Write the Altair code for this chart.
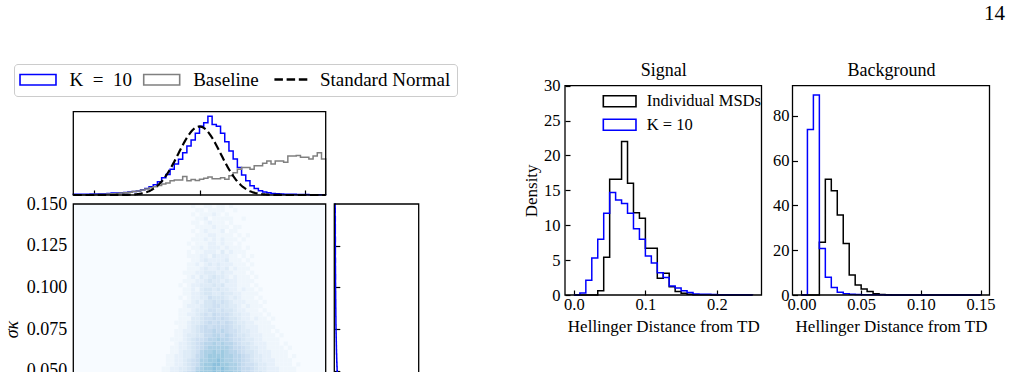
import math
import altair as alt
import pandas as pd

FONT = "Liberation Serif"
BLUE, GRAY, BLACK = "#0000ff", "#808080", "#000000"

# ---------------------------------------------------------------- data
# pull distribution: 60 bins of width 0.2 on [-6, 6]
pull_lo, pull_hi, pull_bin = -6.0, 6.0, 0.2
k10_pull = [0.004, 0.004, 0.005, 0.005, 0.006, 0.006, 0.007, 0.008, 0.009, 0.011,
            0.012, 0.013, 0.015, 0.017, 0.021, 0.024, 0.030, 0.038, 0.048, 0.060,
            0.077, 0.100, 0.120, 0.150, 0.180, 0.208, 0.246, 0.285, 0.320, 0.360,
            0.400, 0.420, 0.458, 0.410, 0.400, 0.360, 0.310, 0.256, 0.210, 0.160,
            0.116, 0.083, 0.054, 0.038, 0.025, 0.017, 0.013, 0.009, 0.007, 0.006,
            0.005, 0.004, 0.004, 0.003, 0.003, 0.003, 0.002, 0.002, 0.002, 0.002]
baseline_pull = [0.001, 0.001, 0.002, 0.002, 0.003, 0.003, 0.004, 0.005, 0.006, 0.007,
                 0.009, 0.011, 0.013, 0.016, 0.020, 0.024, 0.029, 0.035, 0.042, 0.048,
                 0.055, 0.064, 0.070, 0.083, 0.088, 0.088, 0.107, 0.083, 0.090, 0.085,
                 0.092, 0.098, 0.105, 0.095, 0.095, 0.100, 0.092, 0.112, 0.130, 0.150,
                 0.160, 0.160, 0.150, 0.170, 0.170, 0.185, 0.198, 0.180, 0.198, 0.198,
                 0.190, 0.227, 0.227, 0.230, 0.220, 0.220, 0.210, 0.227, 0.246, 0.210]

# sigma_kappa marginal: rows of 0.0025 going down from 0.15
sigma_top, sigma_bin = 0.15, 0.0025
k10_sigma = [0.010, 0.011, 0.010, 0.012, 0.011, 0.012, 0.012, 0.011, 0.013, 0.012,
             0.013, 0.013, 0.012, 0.014, 0.013, 0.014, 0.014, 0.015, 0.014, 0.015,
             0.015, 0.016, 0.016, 0.017, 0.017, 0.018, 0.018, 0.019, 0.019, 0.020,
             0.021, 0.022, 0.023, 0.024, 0.025, 0.026, 0.028, 0.029, 0.031, 0.033,
             0.035]

# joint histogram counts (hex digits), one string per sigma row (top row first),
# first column starts at pull = -2.0
heat_col0 = -2.0
heat_rows = [
    "00000000100110110100000000000000000",
    "00000000011011110010000000000000000",
    "00000000101112101000000000000000000",
    "00000000011201111100100000000000000",
    "00000000110121110100000000000000000",
    "00000000011112111011000000000000000",
    "00000000101211120110000000000000000",
    "00000000011122111101010000000000000",
    "00000000111212121110100000000000000",
    "00000001011122121101000000000000000",
    "00000000112122212111010000000000000",
    "00000001011222131211100000000000000",
    "00000001112213222110101000000000000",
    "00000000112322223111010000000000000",
    "00000001121232322211101000000000000",
    "00000001112322323121110000000000000",
    "00000011122333232211101000000000000",
    "00000001213234332121110100000000000",
    "00000011122343323221111000000000000",
    "00000101223334342221110100000000000",
    "00000011213443433221211010000000000",
    "00000011223443343322111100000000000",
    "00000101223354443232111010000000000",
    "00000011232445454322211101000000000",
    "00000012223445544332121110000000000",
    "00000111233455454432211101000000000",
    "00000112234546555433221110100000000",
    "00000111334556565443221211010000000",
    "00001112334565656543322111100000000",
    "00000112345656666544322211110000000",
    "00001122345667676554332211101000000",
    "00001123344667767654432221110100000",
    "00011123455677877655433221111000000",
    "00001223456778787765443222111010000",
    "00011223456788888766543322111101000",
    "00011233457889898776544322211110000",
    "00112233467899998877654332211110100",
    "00112234568899a98877654332221111000",
    "0011223456899aa99887655433221111010",
    "0112233457899a9a9887665433222111100",
    "0112234568999a9a9988665443222111100",
]

# Hellinger distance from TD
sig_bin = 1 / 120
sig_msd = [0, 0, 0, 0, 0.6, 5.4, 16.6, 16.6, 22.0, 16.0,
           11.8, 11.0, 6.7, 6.7, 2.4, 3.1, 1.2, 0.5, 0.25, 0.1,
           0.05, 0.03, 0.02, 0.01, 0.01, 0, 0, 0, 0, 0]
sig_k10 = [0, 0.3, 2.1, 5.3, 8.0, 11.7, 14.7, 13.6, 13.1, 11.7,
           9.5, 8.0, 5.6, 4.6, 3.2, 2.5, 1.3, 1.0, 0.6, 0.35,
           0.15, 0.12, 0.1, 0.08, 0.05, 0.04, 0.03, 0.02, 0.02, 0.01]
bkg_bin = 0.005
bkg_msd = [0, 0, 0, 23.5, 51.7, 46.5, 35.7, 23.0, 8.9, 4.5,
           2.7, 1.6, 0.6, 0.2, 0.1, 0.05, 0.03, 0.02, 0.01, 0.01,
           0, 0, 0, 0, 0, 0, 0, 0, 0, 0]
bkg_k10 = [0, 73.8, 89.2, 20.8, 7.9, 3.4, 1.2, 0.6, 0.3, 0.2,
           0.15, 0.1, 0.08, 0.06, 0.05, 0.04, 0.03, 0.03, 0.02, 0.02,
           0.02, 0.01, 0.01, 0.01, 0.01, 0.01, 0.01, 0.01, 0.01, 0.01]

# legend entries (en spaces around "=" give the math-style spacing)
left_series = ["K\u2002=\u200210", "Baseline", "Standard Normal"]
right_series = ["Individual MSDs", "K = 10"]
page_number = "14"

# ---------------------------------------------------------------- helpers
def outline(start, width, values, series):
    """Vertices of a step-histogram outline (matplotlib histtype='step')."""
    n = len(values)
    edges = [start + k * width for k in range(n + 1)]
    pts = [(edges[0], 0.0)]
    for k, v in enumerate(values):
        pts += [(edges[k], v), (edges[k + 1], v)]
    pts.append((edges[n], 0.0))
    return pd.DataFrame({"x": [p[0] for p in pts], "y": [p[1] for p in pts],
                         "i": range(len(pts)), "series": series})


def sideways_outline(top, width, values):
    pts = [(0.0, top)]
    for k, v in enumerate(values):
        pts += [(v, top - k * width), (v, top - (k + 1) * width)]
    return pd.DataFrame({"x": [p[0] for p in pts], "y": [p[1] for p in pts],
                         "i": range(len(pts))})


def sc(dom, rng):
    return alt.Scale(domain=dom, range=rng, nice=False, zero=False)


W, H = 1011, 372
ONE = pd.DataFrame({"k": [0]})


def tick_axis(orient, offset, values, size=5.0):
    return alt.Axis(orient=orient, offset=offset, values=values, labels=False,
                    domain=False, ticks=True, tickSize=size, tickWidth=1.2,
                    tickColor=BLACK, grid=False, title=None)


def label_axis(orient, offset, values, fmt, size, pad, **kw):
    return alt.Axis(orient=orient, offset=offset, values=values, format=fmt,
                    ticks=False, tickSize=0, domain=False, grid=False,
                    labelFont=FONT, labelFontSize=size, labelPadding=pad,
                    labelColor=BLACK, labelFlush=False, labelOverlap=False,
                    titleFont=FONT, titleFontWeight="normal", titleColor=BLACK,
                    **kw)


def frame(xs, ys, xd, yd, xaxis=None, yaxis=None, fill="transparent"):
    return alt.Chart(ONE).mark_rect(fill=fill, stroke=BLACK, strokeWidth=1.3).encode(
        x=alt.X(datum=xd[0], scale=xs, axis=xaxis), x2=alt.X2(datum=xd[1]),
        y=alt.Y(datum=yd[0], scale=ys, axis=yaxis), y2=alt.Y2(datum=yd[1]))


# ---------------------------------------------------------------- panel scales
PULL_DOM = [pull_lo, pull_hi]
TM_YDOM = [0, 0.485]
HM_YDOM = [0, 0.15]
RM_XDOM = [0, 1]
SG_XDOM, SG_YDOM = [-0.0125, 0.2625], [0, 30]
BG_XDOM, BG_YDOM = [-0.0075, 0.1575], [0, 93.4]

X_PULL = sc(PULL_DOM, [73.3, 325.7])
Y_TM = sc(TM_YDOM, [195, 111.7])
Y_HM = sc(HM_YDOM, [454, 204])
X_RM = sc(RM_XDOM, [334.3, 418.7])
X_SG, Y_SG = sc(SG_XDOM, [565, 761.5]), sc(SG_YDOM, [295, 85.7])
X_BG, Y_BG = sc(BG_XDOM, [792.5, 989.5]), sc(BG_YDOM, [295, 85.7])

# ---------------------------------------------------------------- legends
RECT_L = "M-3.27,-0.96H3.27V0.96H-3.27Z"
LINE_L = "M-3.27,0H3.27"
RECT_R = "M-2.97,-1H2.97V1H-2.97Z"
NORMAL_DASH = [8.5, 3.7]

# boxed legend: the third entry keeps its label, its dashed symbol comes from
# the strokeDash legend laid on top of it
stroke_scale = alt.Scale(domain=left_series, range=[BLUE, GRAY, "transparent"])
left_legend = alt.Legend(
    orient="none", legendX=14, legendY=64, direction="horizontal", columns=3,
    title=None, labelFont=FONT, labelFontSize=19, labelColor=BLACK,
    symbolType=RECT_L, symbolSize=121, symbolStrokeWidth=1.6,
    symbolFillColor="transparent", symbolOffset=8.5, labelOffset=22,
    columnPadding=7.7, padding=6, strokeColor="#cccccc", fillColor="white",
    cornerRadius=3.5, zindex=0)
dash_legend = alt.Legend(
    orient="none", legendX=274.4, legendY=70, title=None,
    labelFont=FONT, labelFontSize=19, labelExpr="''",
    symbolType=LINE_L, symbolSize=121, symbolStrokeWidth=2.3,
    symbolStrokeColor=BLACK, symbolOffset=8.5, padding=0, zindex=1)

color_scale = alt.Scale(domain=right_series, range=[BLACK, BLUE])
right_legend = alt.Legend(
    orient="none", legendX=603.3, legendY=93, direction="vertical", columns=1,
    title=None, labelFont=FONT, labelFontSize=16.5, labelColor=BLACK,
    symbolType=RECT_R, symbolSize=121, symbolStrokeWidth=1.6,
    symbolFillColor="transparent", symbolOffset=8.1,
    labelOffset=18.9, rowPadding=5.5, padding=0)

# ---------------------------------------------------------------- top marginal
pull_df = pd.concat([outline(pull_lo, pull_bin, k10_pull, left_series[0]),
                     outline(pull_lo, pull_bin, baseline_pull, left_series[1])])
tm_hist = alt.Chart(pull_df).mark_line(strokeWidth=1.5).encode(
    x=alt.X("x:Q", scale=X_PULL, axis=None),
    y=alt.Y("y:Q", scale=Y_TM, axis=None),
    stroke=alt.Stroke("series:N", scale=stroke_scale, legend=left_legend),
    order="i:Q")

zs = [pull_lo + 0.05 * k for k in range(241)]
normal_df = pd.DataFrame({"x": zs,
                          "y": [math.exp(-z * z / 2) / math.sqrt(2 * math.pi) for z in zs],
                          "series": left_series[2]})
tm_norm = alt.Chart(normal_df).mark_line(strokeWidth=2.2, stroke=BLACK).encode(
    x=alt.X("x:Q", scale=X_PULL, axis=None),
    y=alt.Y("y:Q", scale=Y_TM, axis=None),
    strokeDash=alt.StrokeDash("series:N",
                              scale=alt.Scale(domain=[left_series[2]], range=[NORMAL_DASH]),
                              legend=dash_legend))

tm_frame = frame(X_PULL, Y_TM, PULL_DOM, TM_YDOM,
                 xaxis=tick_axis("top", -195, [-5, 0, 5]))

# ---------------------------------------------------------------- joint heatmap
cells = []
for r, line in enumerate(heat_rows):
    s_hi = sigma_top - r * sigma_bin
    for c, ch in enumerate(line):
        n = int(ch, 16)
        if n:
            cells.append({"z0": heat_col0 + c * pull_bin, "z1": heat_col0 + (c + 1) * pull_bin,
                          "s0": s_hi - sigma_bin, "s1": s_hi, "n": n})
cells_df = pd.DataFrame(cells)

BLUES = ["#f7fbff", "#deebf7", "#c6dbef", "#9ecae1", "#6baed6",
         "#4292c6", "#2171b5", "#08519c", "#08306b"]
fill_scale = alt.Scale(domain=[3 * k for k in range(9)], range=BLUES)

hm_back = alt.Chart(ONE).mark_rect(fill="#f7fbff").encode(
    x=alt.X(datum=PULL_DOM[0], scale=X_PULL, axis=None), x2=alt.X2(datum=PULL_DOM[1]),
    y=alt.Y(datum=HM_YDOM[0], scale=Y_HM,
            axis=label_axis("left", -73.3, [0.05, 0.075, 0.1, 0.125, 0.15], ".3f", 18, 6.5,
                            title="σκ", titleFontSize=18, titleFontStyle="italic",
                            titleX=-56, titleBaseline="alphabetic")),
    y2=alt.Y2(datum=HM_YDOM[1]))

hm_cells = alt.Chart(cells_df).mark_rect(strokeWidth=0).encode(
    x=alt.X("z0:Q", scale=X_PULL, axis=None), x2="z1:Q",
    y=alt.Y("s0:Q", scale=Y_HM, axis=None), y2="s1:Q",
    fill=alt.Fill("n:Q", scale=fill_scale, legend=None))

hm_frame = frame(X_PULL, Y_HM, PULL_DOM, HM_YDOM,
                 yaxis=tick_axis("right", 73.3 - W, [0.025, 0.05, 0.075, 0.1, 0.125], 5.5))

# ---------------------------------------------------------------- sigma marginal
rm_line = alt.Chart(sideways_outline(sigma_top, sigma_bin, k10_sigma)).mark_line(
    stroke=BLUE, strokeWidth=1.5).encode(
    x=alt.X("x:Q", scale=X_RM, axis=None),
    y=alt.Y("y:Q", scale=Y_HM, axis=None),
    order="i:Q")
rm_frame = frame(X_RM, Y_HM, RM_XDOM, HM_YDOM,
                 yaxis=tick_axis("right", 334.3 - W, [0.025, 0.05, 0.075, 0.1, 0.125], 5.5))

# ---------------------------------------------------------------- Hellinger panels
def hellinger_panel(df, xs, ys, xd, yd, x0, xvals, xfmt, yvals, title, ytitle, ypad):
    if ytitle:
        yax_kw = dict(title=ytitle, titleFontSize=17, titleX=-29, titleBaseline="alphabetic")
    else:
        yax_kw = dict(title=None)
    hist = alt.Chart(df).mark_line(strokeWidth=1.5).encode(
        x=alt.X("x:Q", scale=xs,
                axis=label_axis("bottom", 295 - H, xvals, xfmt, 16.5, 1.5,
                                title="Hellinger Distance from TD", titleFontSize=17,
                                titleY=36, titleBaseline="alphabetic")),
        y=alt.Y("y:Q", scale=ys,
                axis=label_axis("left", -x0, yvals, "d", 16.5, ypad, **yax_kw)),
        color=alt.Color("series:N", scale=color_scale, legend=right_legend),
        order="i:Q")
    xt = alt.Axis(orient="top", offset=-295, values=xvals, labels=False, domain=False,
                  ticks=True, tickSize=5, tickWidth=1.2, tickColor=BLACK, grid=False,
                  title=title, titleFont=FONT, titleFontSize=18, titleFontWeight="normal",
                  titleColor=BLACK, titleY=-219.3, titleBaseline="alphabetic")
    fr = frame(xs, ys, xd, yd, xaxis=xt, yaxis=tick_axis("right", x0 - W, yvals, 5))
    return [hist, fr]


sig_df = pd.concat([outline(0, sig_bin, sig_msd, "Individual MSDs"),
                    outline(0, sig_bin, sig_k10, "K = 10")])
bkg_df = pd.concat([outline(0, bkg_bin, bkg_msd, "Individual MSDs"),
                    outline(0, bkg_bin, bkg_k10, "K = 10")])

sig_layers = hellinger_panel(sig_df, X_SG, Y_SG, SG_XDOM, SG_YDOM, 565,
                             [0, 0.1, 0.2], ".1f", [0, 5, 10, 15, 20, 25, 30],
                             "Signal", "Density", 5)
bkg_layers = hellinger_panel(bkg_df, X_BG, Y_BG, BG_XDOM, BG_YDOM, 792.5,
                             [0, 0.05, 0.1, 0.15], ".2f", [0, 20, 40, 60, 80],
                             "Background", None, 3.5)

page = alt.Chart(pd.DataFrame({"t": [page_number]})).mark_text(
    font=FONT, fontSize=21, align="right", baseline="alphabetic", color=BLACK).encode(
    text="t:N", x=alt.value(1005), y=alt.value(20))

chart = alt.layer(
    hm_back, hm_cells, hm_frame,
    rm_line, rm_frame,
    tm_hist, tm_norm, tm_frame,
    *sig_layers, *bkg_layers,
    page,
).resolve_scale(
    x="independent", y="independent"
).properties(
    width=W, height=H, padding=0, background="white",
    autosize=alt.AutoSizeParams(type="none"),
).configure_view(stroke=None)

chart.save("out.html", embed_options={"renderer": "svg", "actions": False})
